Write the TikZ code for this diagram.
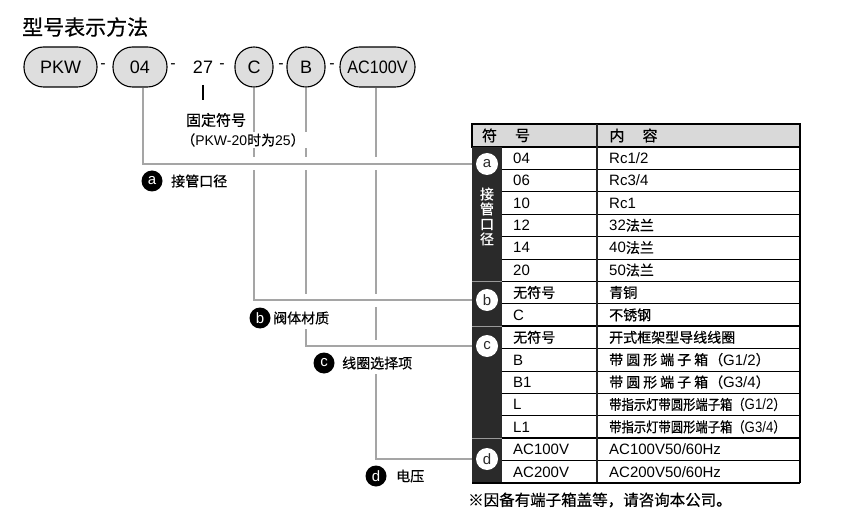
\documentclass[tikz,border=0pt]{standalone}
\usepackage{fontspec}
\setmainfont{Liberation Sans}
\newfontfamily\cjk{Noto Sans CJK SC}[FakeBold=0.6]
\usetikzlibrary{calc}
\newcommand\fsz[1]{\fontsize{#1}{#1}\selectfont}
\newcommand\zh[1]{{\cjk\fontsize{14}{14}\selectfont #1}}
\definecolor{pillgray}{RGB}{222,222,222}
\definecolor{headgray}{RGB}{217,217,217}
\definecolor{darkcol}{RGB}{42,42,42}
\definecolor{linegray}{RGB}{165,165,165}
\pgfdeclarelayer{bg}
\pgfsetlayers{bg,main}
\newcommand\trow[3]{%
 \node[cellone] (r#1a) at (513,{147+22.4*#1+16.4}) {#2};
 \node[celltwo] (r#1b) at (609,{147+22.4*#1+16.4}) {#3};}
\begin{document}
\begin{tikzpicture}[x=1pt,y=-1pt,
  pill/.style={draw=black, line width=1.1pt, fill=pillgray, rounded corners=19.5pt,
    minimum height=40pt, inner sep=0pt, font=\fsz{18}},
  pillc/.style={pill, rounded corners=18.9pt, minimum width=38pt},
  dashtxt/.style={font=\fsz{16}, inner sep=0pt},
  conn/.style={draw=linegray, line width=1.3pt},
  halo/.style={draw=white, line width=13pt},
  lcirc/.style={circle, fill=black, text=white, minimum size=21pt, inner sep=0pt, font=\fsz{15}},
  ltext/.style={anchor=west, fill=white, inner xsep=1pt, inner ysep=5pt, font=\fsz{14}\cjk},
  tcirc/.style={circle, fill=white, text=darkcol, minimum size=22pt, inner sep=0pt, font=\fsz{15}},
  cellone/.style={anchor=base west, inner sep=0pt, font=\fsz{15}},
  celltwo/.style={anchor=base west, inner sep=0pt, font=\fsz{15}},
  headtxt/.style={font=\fsz{15}\cjk, inner sep=0pt},
  sectline/.style={line width=1.8pt, draw=black},
  rowline/.style={line width=0.8pt, draw=black},
  darksep/.style={line width=1.2pt, draw=black!40},
]
\useasboundingbox (0,0) rectangle (850,526);

% title
\node[anchor=west, inner sep=0pt, font=\fsz{21}\cjk] (title) at (22,27) {型号表示方法};

% model code
\node[pill, minimum width=73pt] (pkw) at (60.5,67) {PKW};
\node[dashtxt] (d1) at (103,66) {-};
\node[pill, minimum width=54pt] (p04) at (140,67) {04};
\node[dashtxt] (d2) at (173,66) {-};
\node[font=\fsz{18}, inner sep=0pt] (p27) at (203,67) {27};
\node[dashtxt] (d3) at (222,66) {-};
\node[pillc] (pc) at (254,67) {C};
\node[dashtxt] (d4) at (281,66) {-};
\node[pillc] (pb) at (306,67) {B};
\node[dashtxt] (d5) at (332,66) {-};
\node[pill, minimum width=75pt] (pac) at (377.5,67) {\scalebox{0.9}[1]{AC100V}};

% fixed symbol note
\coordinate (t1) at (203,85);
\coordinate (t2) at (203,100);
\draw[line width=1.5pt] (t1) -- (t2);
\node[font=\fsz{15}\cjk, fill=white, inner sep=1pt] (fix1) at (216,120) {固定符号};
\node[font=\fsz{14}, fill=white, inner xsep=3pt, inner ysep=1pt] (fix2) at (243,140)
  {\zh{（}PKW-20\zh{时为}25\zh{）}};

% table
\fill[headgray] (472,124) rectangle (800,147);
\draw[line width=1.4pt] (472,124) rectangle (800,147);
\node[headtxt] (h1) at (489.5,135.5) {符};
\node[headtxt] (h2) at (522.5,135.5) {号};
\node[headtxt] (h3) at (617,135.5) {内};
\node[headtxt] (h4) at (650,135.5) {容};
\fill[darkcol] (472,147) rectangle (502,483);
\foreach \i in {1,2,3,4,5,7,9,10,11,12,14}{
  \draw[rowline] (502,{147+22.4*\i}) -- (800,{147+22.4*\i});
}
\foreach \i in {6,8,13}{
  \draw[sectline] (502,{147+22.4*\i}) -- (800,{147+22.4*\i});
  \draw[darksep] (472,{147+22.4*\i}) -- (502,{147+22.4*\i});
}
\draw[line width=1.5pt, draw=black!85] (597,124) -- (597,483);
\draw[line width=1.8pt] (800,124) -- (800,483);
\draw[line width=1.8pt] (472,483) -- (800,483);

\node[tcirc] (ta) at (487,164) {a};
\node[tcirc] (tb) at (487,300) {b};
\node[tcirc] (tc) at (487,346) {c};
\node[tcirc] (td) at (487,459) {d};
\node[font=\fontsize{14}{15}\selectfont\cjk, text=white, align=center, inner sep=0pt] (tav) at (487,216.5) {接\\管\\口\\径};

\trow{0}{04}{Rc1/2}
\trow{1}{06}{Rc3/4}
\trow{2}{10}{Rc1}
\trow{3}{12}{32\zh{法兰}}
\trow{4}{14}{40\zh{法兰}}
\trow{5}{20}{50\zh{法兰}}
\trow{6}{\zh{无符号}}{\zh{青铜}}
\trow{7}{C}{\zh{不锈钢}}
\trow{8}{\zh{无符号}}{\zh{开式框架型导线线圈}}
\trow{9}{B}{\zh{带\kern3pt 圆\kern3pt 形\kern3pt 端\kern3pt 子\kern3pt 箱\kern1pt（}G1/2\zh{）}}
\trow{10}{B1}{\zh{带\kern3pt 圆\kern3pt 形\kern3pt 端\kern3pt 子\kern3pt 箱\kern1pt（}G3/4\zh{）}}
\trow{11}{L}{\scalebox{0.88}[1]{\zh{带指示灯带圆形端子箱（}G1/2\zh{）}}}
\trow{12}{L1}{\scalebox{0.88}[1]{\zh{带指示灯带圆形端子箱（}G3/4\zh{）}}}
\trow{13}{AC100V}{AC100V50/60Hz}
\trow{14}{AC200V}{AC200V50/60Hz}

\node[anchor=west, inner sep=0pt, font=\fsz{15.5}\cjk] (foot) at (468,500) {※因备有端子箱盖等，请咨询本公司。};

% left labels
\node[lcirc] (la) at (152,181) {a};
\node[ltext] (lat) at (170,181) {接管口径};
\node[lcirc] (lb) at (260,318) {b};
\node[ltext] (lbt) at (272,318) {阀体材质};
\node[lcirc] (lc) at (324,363) {c};
\node[ltext] (lct) at (341,363) {线圈选择项};
\node[lcirc] (ld) at (376,476) {d};
\node[ltext] (ldt) at (395,476) {电压};

% connectors
\begin{pgfonlayer}{bg}
\coordinate (sa) at ([xshift=3pt]p04.south);
\coordinate (sd) at ([xshift=-1.5pt]pac.south);
\draw[conn] (sd) |- (td.west);
\draw[halo] ($(pb.south |- tc.west)+(7,0)$) -- (tc.west);
\draw[conn] (pb.south) |- (tc.west);
\draw[halo] ($(pc.south |- tb.west)+(7,0)$) -- (tb.west);
\draw[conn] (pc.south) |- (tb.west);
\draw[halo] ($(sa |- ta.west)+(7,0)$) -- (ta.west);
\draw[conn] (sa) |- (ta.west);
\end{pgfonlayer}
\end{tikzpicture}
\end{document}
